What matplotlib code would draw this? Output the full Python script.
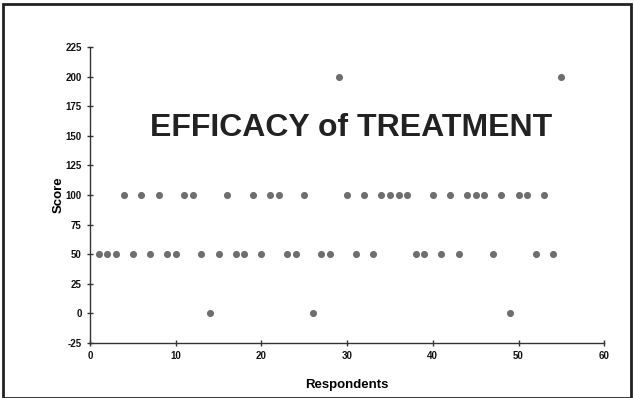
import matplotlib
matplotlib.use('Agg')
import matplotlib.pyplot as plt
from matplotlib.patches import Rectangle

# --- Data: one score per respondent ---
respondents = list(range(1, 56))
scores = [50, 50, 50, 100, 50, 100, 50, 100, 50, 50,
          100, 100, 50, 0, 50, 100, 50, 50, 100, 50,
          100, 100, 50, 50, 100, 0, 50, 50, 200, 100,
          50, 100, 50, 100, 100, 100, 100, 50, 50, 100,
          50, 100, 50, 100, 100, 100, 50, 100, 0, 100,
          100, 50, 100, 50, 200]
x_ticks = [0, 10, 20, 30, 40, 50, 60]
y_ticks = [-25, 0, 25, 50, 75, 100, 125, 150, 175, 200, 225]

plt.rcParams['font.family'] = ['Liberation Sans', 'DejaVu Sans']
plt.rcParams['axes.unicode_minus'] = False

fig = plt.figure(figsize=(6.34, 3.98), dpi=100)
ax = fig.add_axes([0.142, 0.138, 0.811, 0.744])

ax.scatter(respondents, scores, s=26, color='#6e6e6e', zorder=3, linewidths=0)

ax.set_xlim(0, 60)
ax.set_ylim(-25, 225)
ax.set_xticks(x_ticks)
ax.set_yticks(y_ticks)
ax.spines['top'].set_visible(False)
ax.spines['right'].set_visible(False)
for s in ['left', 'bottom']:
    ax.spines[s].set_color('#333333')
    ax.spines[s].set_linewidth(1.0)
ax.tick_params(direction='inout', length=5, width=1, colors='#333333', labelsize=7)
for lbl in ax.get_xticklabels() + ax.get_yticklabels():
    lbl.set_fontweight('bold')
    lbl.set_color('#111111')

ax.set_xlabel('Respondents', fontsize=9.5, fontweight='bold', labelpad=13)
ax.set_ylabel('Score', fontsize=9.5, fontweight='bold', labelpad=0.5)

ax.text(0.508, 0.726, 'EFFICACY of TREATMENT', transform=ax.transAxes,
        ha='center', va='center', fontsize=23, fontweight='bold', color='#222222')

# outer frame round the picture
fig.patches.append(Rectangle((0.005, 0.0), 0.99, 0.99, transform=fig.transFigure,
                             fill=False, edgecolor='#222222', linewidth=2))

fig.savefig('out.png', dpi=100)
